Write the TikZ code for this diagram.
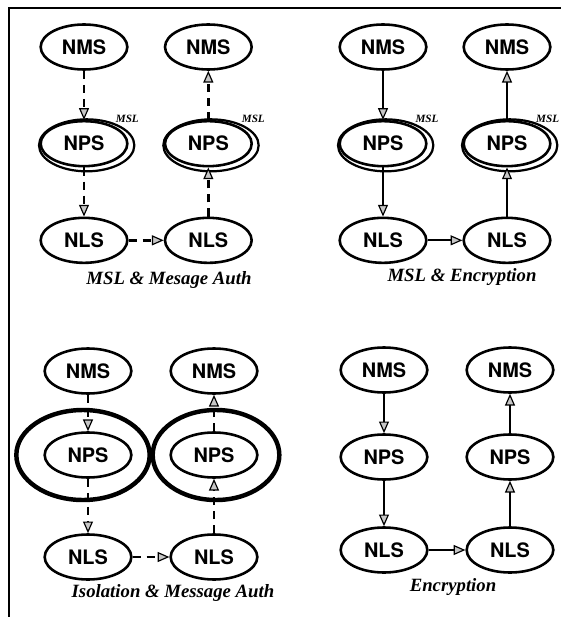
\documentclass[tikz,border=0pt]{standalone}
\usepackage{fontspec}
\setmainfont{TeX Gyre Heros}
\newfontfamily\capfont{Liberation Serif}
\usepackage{tikz}
\usetikzlibrary{shapes.geometric, arrows.meta, positioning}
\tikzstyle{unit}    = [ellipse, draw=black, line width=2.2pt, minimum width=2.6cm, minimum height=1.35cm,
                       inner sep=1pt, text centered, font=\bfseries\fontsize{17}{20}\selectfont]
\tikzstyle{ring}    = [line width=1.9pt]
\tikzstyle{wall}    = [line width=3.8pt]
\tikzstyle{tag}     = [font=\capfont\bfseries\itshape\fontsize{9.5}{11}\selectfont]
\tikzstyle{caption} = [font=\capfont\bfseries\itshape\fontsize{16}{19}\selectfont]
\tikzstyle{arrow}   = [line width=1.6pt, -{Triangle[length=10pt,width=8.5pt,fill=gray!45,line width=1pt]}]
\tikzstyle{authed}  = [arrow, line width=2.4pt, dash pattern=on 7pt off 5pt]

\begin{document}
\begin{tikzpicture}[node distance=2.9cm]
  \fill[white] (0,0) rectangle (16.83,-18.51);
  \useasboundingbox (0,0) rectangle (16.83,-18.51);
  % page frame
  \draw[line width=1.6pt] (0.27,-18.51) -- (0.27,-0.24) -- (16.83,-0.24);

  % MSL & message authentication
  \node (nmsAl) [unit] at (2.52,-1.41) {NMS};
  \node (npsAl) [unit, below of=nmsAl] {NPS};
  \node (nlsAl) [unit, below of=npsAl] {NLS};
  \node (nmsAr) [unit, right of=nmsAl, xshift=0.83cm] {NMS};
  \node (npsAr) [unit, below of=nmsAr] {NPS};
  \node (nlsAr) [unit, below of=npsAr] {NLS};
  \draw[ring] ([shift={(0.08,-0.05)}]npsAl.center) ellipse (1.43 and 0.78);
  \draw[ring] ([shift={(0.08,-0.05)}]npsAr.center) ellipse (1.43 and 0.78);
  \node (mslAl) [tag] at ([shift={(1.3,0.75)}]npsAl.center) {MSL};
  \node (mslAr) [tag] at ([shift={(1.35,0.75)}]npsAr.center) {MSL};
  \node (capA) [caption] at (5.07,-8.4) {MSL \& Mesage Auth};

  \draw[authed] (nmsAl) -- (npsAl);
  \draw[authed] (npsAl) -- (nlsAl);
  \draw[authed] (nlsAl) -- (nlsAr);
  \draw[authed] (nlsAr) -- (npsAr);
  \draw[authed] (npsAr) -- (nmsAr);

  % MSL & encryption
  \node (nmsBl) [unit] at (11.49,-1.41) {NMS};
  \node (npsBl) [unit, below of=nmsBl] {NPS};
  \node (nlsBl) [unit, below of=npsBl] {NLS};
  \node (nmsBr) [unit, right of=nmsBl, xshift=0.82cm] {NMS};
  \node (npsBr) [unit, below of=nmsBr] {NPS};
  \node (nlsBr) [unit, below of=npsBr] {NLS};
  \draw[ring] ([shift={(0.08,-0.05)}]npsBl.center) ellipse (1.43 and 0.78);
  \draw[ring] ([shift={(0.08,-0.05)}]npsBr.center) ellipse (1.43 and 0.78);
  \node (mslBl) [tag] at ([shift={(1.32,0.75)}]npsBl.center) {MSL};
  \node (mslBr) [tag] at ([shift={(1.22,0.75)}]npsBr.center) {MSL};
  \node (capB) [caption] at (13.86,-8.3) {MSL \& Encryption};

  \draw[arrow] (nmsBl) -- (npsBl);
  \draw[arrow] (npsBl) -- (nlsBl);
  \draw[arrow] (nlsBl) -- (nlsBr);
  \draw[arrow] (nlsBr) -- (npsBr);
  \draw[arrow] (npsBr) -- (nmsBr);

  % isolation & message authentication
  \node (nmsCl) [unit] at (2.64,-11.13) {NMS};
  \node (npsCl) [unit, below of=nmsCl, yshift=0.38cm] {NPS};
  \node (nlsCl) [unit, below of=npsCl, yshift=-0.16cm] {NLS};
  \node (nmsCr) [unit, right of=nmsCl, xshift=0.88cm] {NMS};
  \node (npsCr) [unit, below of=nmsCr, yshift=0.38cm] {NPS};
  \node (nlsCr) [unit, below of=npsCr, yshift=-0.16cm] {NLS};
  \draw[wall] ([xshift=-0.15cm]npsCl.center) ellipse (2.0 and 1.35);
  \draw[wall] ([xshift=0.06cm]npsCr.center) ellipse (1.9 and 1.35);
  \node (capC) [caption] at (5.19,-17.79) {Isolation \& Message Auth};

  \draw[authed] (nmsCl) -- (npsCl);
  \draw[authed] (npsCl) -- (nlsCl);
  \draw[authed] (nlsCl) -- (nlsCr);
  \draw[authed] (nlsCr) -- (npsCr);
  \draw[authed] (npsCr) -- (nmsCr);

  % encryption only
  \node (nmsDl) [unit] at (11.52,-11.1) {NMS};
  \node (npsDl) [unit, below of=nmsDl, yshift=0.29cm] {NPS};
  \node (nlsDl) [unit, below of=npsDl, yshift=0.11cm] {NLS};
  \node (nmsDr) [unit, right of=nmsDl, xshift=0.88cm] {NMS};
  \node (npsDr) [unit, below of=nmsDr, yshift=0.29cm] {NPS};
  \node (nlsDr) [unit, below of=npsDr, yshift=0.11cm] {NLS};
  \node (capD) [caption] at (13.59,-17.61) {Encryption};

  \draw[arrow] (nmsDl) -- (npsDl);
  \draw[arrow] (npsDl) -- (nlsDl);
  \draw[arrow] (nlsDl) -- (nlsDr);
  \draw[arrow] (nlsDr) -- (npsDr);
  \draw[arrow] (npsDr) -- (nmsDr);
\end{tikzpicture}
\end{document}
